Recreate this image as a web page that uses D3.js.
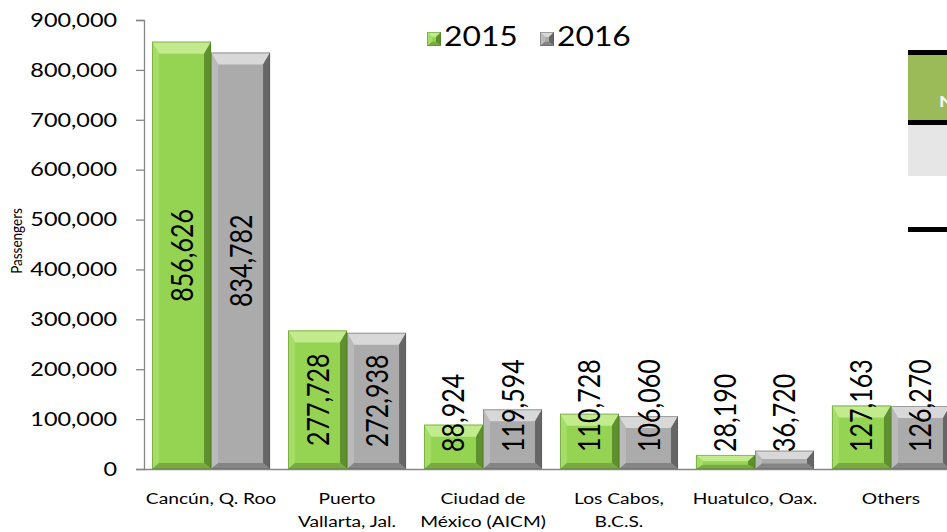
<!DOCTYPE html>
<html>
<head>
<meta charset="utf-8">
<script src="https://cdn.jsdelivr.net/npm/d3@7"></script>
<style>
  body { margin: 0; background: #fff; }
  svg { display: block; font-family: Lato, "Open Sans", sans-serif; }
</style>
</head>
<body>
<svg id="chart" width="947" height="532"></svg>
<script>
// airport data
const categories = [
  ["Cancún, Q. Roo"],
  ["Puerto", "Vallarta, Jal."],
  ["Ciudad de", "México (AICM)"],
  ["Los Cabos,", "B.C.S."],
  ["Huatulco, Oax."],
  ["Others"]
];
const years = ["2015", "2016"];
const values2015 = [856626, 277728, 88924, 110728, 28190, 127163];
const values2016 = [834782, 272938, 119594, 106060, 36720, 126270];
const yTicks = [0, 100000, 200000, 300000, 400000, 500000, 600000, 700000, 800000, 900000];

const svg = d3.select("#chart");
const plotLeft = 144, plotTop = 20, plotBottom = 469;
const sx = 1.2; // the picture's text is stretched sideways

const x = d3.scaleBand()
  .domain(d3.range(categories.length))
  .range([plotLeft, 958])
  .paddingInner(0.132).paddingOuter(0.059);
const x1 = d3.scaleBand().domain(years).range([0, x.bandwidth()]);
const y = d3.scaleLinear().domain([0, 900000]).range([plotBottom, plotTop]);

const colors = {
  "2015": { base: "#94d452", top: "#c2eb8e", left: "#a5de66", right: "#5e902f", bottom: "#79aa42", edge: "#4d7a22" },
  "2016": { base: "#ababab", top: "#d8d8d8", left: "#bababa", right: "#666666", bottom: "#858585", edge: "#555555" }
};

// y axis
const yAxis = svg.append("g")
  .attr("transform", `translate(${plotLeft},0)`)
  .call(d3.axisLeft(y).tickValues(yTicks).tickSize(8).tickFormat(d3.format(",")));
yAxis.select(".domain").attr("stroke", "#868686").attr("stroke-width", 1.3);
yAxis.selectAll(".tick line").attr("stroke", "#868686").attr("stroke-width", 1.3);
yAxis.selectAll(".tick text").attr("font-size", 19.5).attr("fill", "#000")
  .attr("font-family", "Lato, sans-serif")
  .attr("x", -27 / sx).attr("transform", `scale(${sx},1)`);

svg.append("text")
  .attr("transform", `translate(22,241) scale(${sx},1) rotate(-90)`)
  .attr("text-anchor", "middle").attr("font-size", 13.5).text("Passengers");

// bars with bevel
function drawBar(g, bx, by, bw, bh, c, bt, bs, bb) {
  const x0 = bx, x2 = bx + bw, y0 = by, y2 = by + bh;
  const t = Math.min(bt, bh * 0.45), s = Math.min(bs, bw / 2), b = Math.min(bb, bh * 0.3);
  g.append("rect").attr("x", x0).attr("y", y0).attr("width", bw).attr("height", bh).attr("fill", c.base);
  const poly = (pts, fill) => g.append("polygon").attr("points", pts.map(p => p.join(",")).join(" ")).attr("fill", fill);
  poly([[x0, y0], [x2, y0], [x2 - s, y0 + t], [x0 + s, y0 + t]], c.top);
  poly([[x0, y0], [x0 + s, y0 + t], [x0 + s, y2 - b], [x0, y2]], c.left);
  poly([[x2, y0], [x2, y2], [x2 - s, y2 - b], [x2 - s, y0 + t]], c.right);
  poly([[x0, y2], [x0 + s, y2 - b], [x2 - s, y2 - b], [x2, y2]], c.bottom);
  g.append("rect").attr("x", x0 + 0.5).attr("y", y0 + 0.5).attr("width", bw - 1).attr("height", bh - 1)
    .attr("fill", "none").attr("stroke", c.edge).attr("stroke-width", 1).attr("stroke-opacity", 0.45);
}

const series = [values2015, values2016];
const barsG = svg.append("g");
categories.forEach((cat, i) => {
  years.forEach((yr, j) => {
    const v = series[j][i];
    drawBar(barsG, x(i) + x1(yr), y(v), x1.bandwidth(), plotBottom - y(v), colors[yr], 12, 7, 6);
  });
});

// x baseline
svg.append("line").attr("x1", plotLeft).attr("x2", 947).attr("y1", plotBottom + 0.5).attr("y2", plotBottom + 0.5)
  .attr("stroke", "#868686").attr("stroke-width", 1.5);

// data labels
const fmt = d3.format(",");
categories.forEach((cat, i) => {
  years.forEach((yr, j) => {
    const v = series[j][i];
    const cx = x(i) + x1(yr) + x1.bandwidth() / 2;
    const t = svg.append("text")
      .attr("font-size", 25).attr("fill", "#000").attr("text-anchor", "middle")
      .text(fmt(v));
    const len = t.node().getComputedTextLength();
    let cy = (y(v) + plotBottom) / 2;
    if (cy + len / 2 > plotBottom - 17) cy = plotBottom - 17 - len / 2;
    t.attr("transform", `translate(${cx + 11},${cy}) scale(${sx},1) rotate(-90)`);
  });
});

// category labels
categories.forEach((cat, i) => {
  const cx = x(i) + x.bandwidth() / 2;
  const t = svg.append("text").attr("text-anchor", "middle").attr("font-size", 16)
    .attr("transform", `translate(${cx},0) scale(${sx},1)`);
  cat.forEach((line, k) => t.append("tspan").attr("x", 0).attr("y", 504 + k * 23.5).text(line));
});

// legend
const legend = svg.append("g");
[[427, "2015"], [540, "2016"]].forEach(([lx, yr]) => {
  const s = 14, ly = 32;
  drawBar(legend, lx, ly, s, s, colors[yr], 5, 5, 5);
  legend.append("text").attr("transform", `translate(${lx + 17},46) scale(${sx},1)`)
    .attr("font-size", 26.5).text(yr);
});

// partial table at right edge
const tb = svg.append("g");
tb.append("rect").attr("x", 908).attr("y", 55).attr("width", 39).attr("height", 66).attr("fill", "#9bbb59");
tb.append("rect").attr("x", 908).attr("y", 125).attr("width", 39).attr("height", 51).attr("fill", "#e6e6e6");
[50, 120, 227].forEach(ly => tb.append("rect").attr("x", 908).attr("y", ly).attr("width", 39).attr("height", 5).attr("fill", "#000"));
tb.append("text").attr("transform", `translate(939,107) scale(${sx},1)`).attr("font-size", 16).attr("font-weight", "bold")
  .attr("fill", "#fff").text("N");
</script>
</body>
</html>
